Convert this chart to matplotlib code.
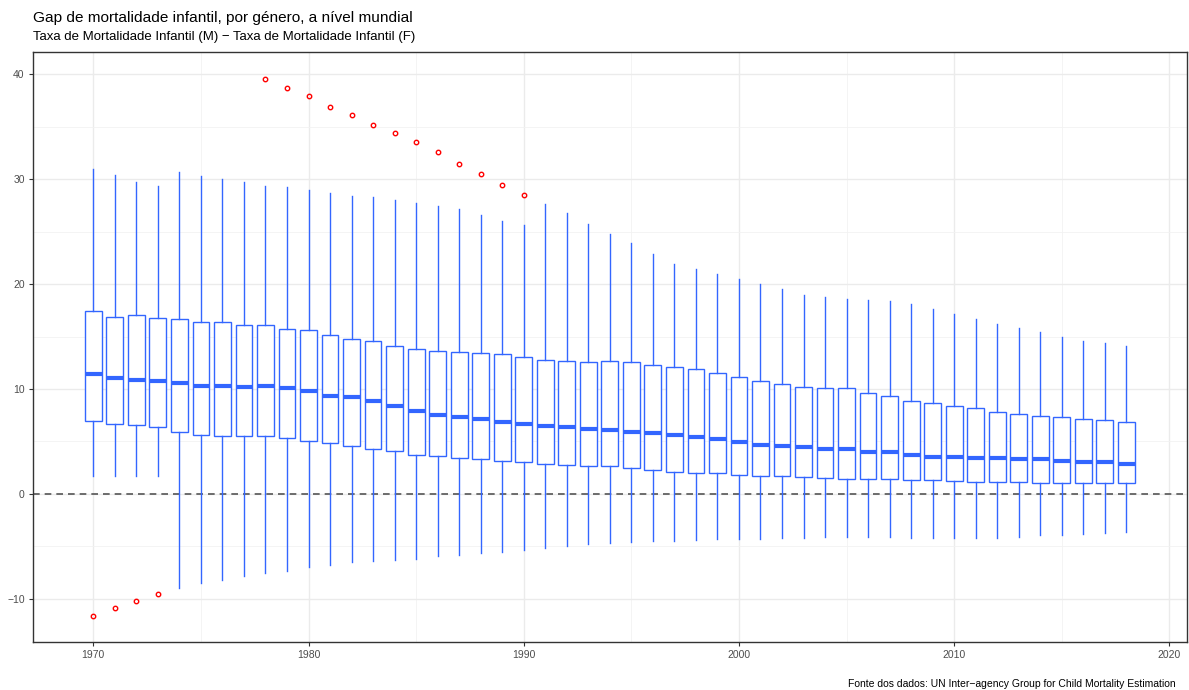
import matplotlib
matplotlib.use("Agg")
import matplotlib.pyplot as plt
from matplotlib.ticker import MultipleLocator
import numpy as np

plt.rcParams['font.family'] = ['Liberation Sans', 'DejaVu Sans']

# anos
anos = list(range(1970, 2019))

# estatísticas das caixas
bigode_sup = [30.95, 30.4, 29.7, 29.3, 30.7, 30.3, 30.0, 29.7, 29.3, 29.2,
              28.95, 28.7, 28.4, 28.3, 28.0, 27.7, 27.4, 27.1, 26.6, 26.0,
              25.6, 27.6, 26.8, 25.7, 24.8, 23.9, 22.9, 21.9, 21.4, 20.95,
              20.5, 20.0, 19.5, 18.95, 18.75, 18.55, 18.45, 18.4, 18.1, 17.6,
              17.1, 16.7, 16.2, 15.8, 15.4, 15.0, 14.55, 14.4, 14.1]
q3 = [17.4, 16.9, 17.05, 16.8, 16.7, 16.4, 16.35, 16.1, 16.1, 15.75,
      15.65, 15.1, 14.8, 14.6, 14.1, 13.8, 13.6, 13.5, 13.4, 13.3,
      13.05, 12.8, 12.65, 12.55, 12.65, 12.55, 12.3, 12.1, 11.9, 11.5,
      11.15, 10.8, 10.5, 10.2, 10.1, 10.05, 9.6, 9.35, 8.9, 8.65,
      8.4, 8.15, 7.8, 7.6, 7.45, 7.3, 7.1, 7.0, 6.85]
mediana = [11.4, 11.05, 10.9, 10.75, 10.55, 10.3, 10.3, 10.2, 10.3, 10.1,
           9.8, 9.35, 9.2, 8.85, 8.4, 7.9, 7.55, 7.3, 7.1, 6.85,
           6.7, 6.5, 6.35, 6.15, 6.1, 5.9, 5.8, 5.6, 5.45, 5.2,
           4.95, 4.7, 4.6, 4.5, 4.25, 4.25, 4.0, 4.0, 3.75, 3.5,
           3.5, 3.4, 3.4, 3.3, 3.3, 3.15, 3.05, 3.0, 2.9]
q1 = [6.95, 6.65, 6.55, 6.35, 5.9, 5.6, 5.55, 5.55, 5.5, 5.3,
      5.05, 4.85, 4.55, 4.3, 4.1, 3.75, 3.6, 3.45, 3.35, 3.15,
      3.05, 2.9, 2.8, 2.7, 2.65, 2.45, 2.25, 2.1, 2.0, 1.95,
      1.85, 1.75, 1.7, 1.6, 1.55, 1.45, 1.4, 1.4, 1.3, 1.3,
      1.2, 1.15, 1.15, 1.1, 1.05, 1.05, 1.0, 1.0, 1.0]
bigode_inf = [1.7, 1.7, 1.7, 1.7, -8.95, -8.5, -8.15, -7.8, -7.55, -7.3,
              -7.0, -6.8, -6.5, -6.35, -6.25, -6.15, -5.95, -5.8, -5.65, -5.5,
              -5.3, -5.1, -4.95, -4.75, -4.7, -4.6, -4.5, -4.5, -4.4, -4.3,
              -4.3, -4.3, -4.2, -4.2, -4.1, -4.1, -4.1, -4.1, -4.15, -4.15,
              -4.15, -4.15, -4.15, -4.1, -3.95, -3.9, -3.8, -3.7, -3.6]

# outliers
out_anos = [1970, 1971, 1972, 1973,
            1978, 1979, 1980, 1981, 1982, 1983, 1984, 1985, 1986, 1987, 1988, 1989, 1990]
out_vals = [-11.6, -10.85, -10.2, -9.5,
            39.5, 38.7, 37.9, 36.9, 36.1, 35.15, 34.4, 33.5, 32.55, 31.45, 30.5, 29.45, 28.5]

azul = '#3366FF'

stats = []
for i, a in enumerate(anos):
    fl = [v for ya, v in zip(out_anos, out_vals) if ya == a]
    stats.append(dict(med=mediana[i], q1=q1[i], q3=q3[i],
                      whislo=bigode_inf[i], whishi=bigode_sup[i], fliers=fl))

fig = plt.figure(figsize=(11.89, 6.9), dpi=100)
ax = fig.add_axes([0.0278, 0.0696, 0.9702, 0.855])

# grelha
ax.xaxis.set_major_locator(MultipleLocator(10))
ax.xaxis.set_minor_locator(MultipleLocator(5))
ax.yaxis.set_major_locator(MultipleLocator(10))
ax.yaxis.set_minor_locator(MultipleLocator(5))
ax.grid(which='major', color='#EBEBEB', linewidth=1.0, zorder=0)
ax.grid(which='minor', color='#F2F2F2', linewidth=0.6, zorder=0)
ax.set_axisbelow(True)

ax.axhline(0, color='#555555', linestyle=(0, (4, 3)), linewidth=1.2, zorder=1)

ax.bxp(stats, positions=anos, widths=0.78, showcaps=False, patch_artist=True,
       manage_ticks=False,
       boxprops=dict(facecolor='white', edgecolor=azul, linewidth=1.0),
       whiskerprops=dict(color=azul, linewidth=1.0),
       medianprops=dict(color=azul, linewidth=3.0),
       flierprops=dict(marker='o', markerfacecolor='none', markeredgecolor='red',
                       markersize=3.2, markeredgewidth=1.0),
       zorder=2)

ax.set_xlim(1967.2, 2020.8)
ax.set_ylim(-14.1, 42.1)

for s in ax.spines.values():
    s.set_color('#333333')
    s.set_linewidth(1.0)
ax.tick_params(which='major', length=3, color='#333333', labelsize=7.5,
               labelcolor='#4D4D4D', pad=3)
ax.tick_params(which='minor', length=0)

fig.text(0.0278, 0.974, 'Gap de mortalidade infantil, por género, a nível mundial',
         fontsize=11.1, ha='left', va='center', color='black')
fig.text(0.0278, 0.946, 'Taxa de Mortalidade Infantil (M) \u2212 Taxa de Mortalidade Infantil (F)',
         fontsize=9.5, ha='left', va='center', color='black')
fig.text(0.989, 0.009, 'Fonte dos dados: UN Inter\u2212agency Group for Child Mortality Estimation',
         fontsize=7.45, ha='right', va='center', color='black')

fig.savefig('out.png', dpi=100)
